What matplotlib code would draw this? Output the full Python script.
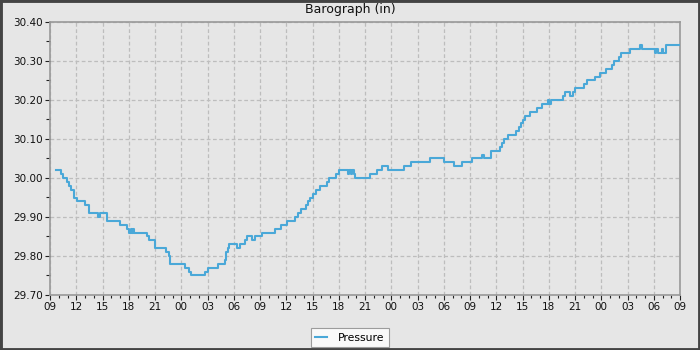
import matplotlib
matplotlib.use("Agg")
import matplotlib.pyplot as plt
from matplotlib.ticker import MultipleLocator, FixedLocator
from matplotlib.patches import Rectangle

# hours since 09:00 on the first day
hours = [0.69, 1.26, 1.45, 1.9, 2.18, 2.37, 2.75, 3.13, 3.97, 4.47, 5.46, 5.73,
         6.56, 8.0, 8.78, 9.0, 9.2, 9.35, 9.5, 9.6, 11.07, 11.3, 12.0, 13.3,
         13.6, 13.74, 15.4, 15.9, 16.1, 17.7, 18.0, 19.2, 20.0, 20.15, 20.35,
         20.5, 21.4, 21.7, 22.25, 22.5, 23.1, 23.4, 24.2, 25.7, 26.45, 27.1,
         28.0, 28.35, 28.7, 29.2, 29.5, 29.7, 30.1, 30.4, 30.9, 31.6, 31.9,
         32.7, 33.05, 34.1, 34.2, 34.35, 34.5, 34.7, 34.8, 36.6, 37.4, 37.9,
         38.6, 40.4, 41.2, 43.4, 45.0, 46.2, 47.1, 48.2, 49.35, 49.65, 50.4,
         51.45, 51.7, 51.9, 52.3, 53.2, 53.6, 53.8, 54.05, 54.25, 54.9, 55.6,
         56.2, 56.9, 57.0, 57.2, 58.6, 58.8, 59.4, 59.8, 60.0, 61.0, 61.4,
         62.3, 62.9, 63.5, 64.2, 64.5, 65.0, 65.2, 66.25, 67.4, 67.6, 69.1,
         69.3, 69.5, 69.9, 70.1, 70.4, 71.85]
pressure = [30.02, 30.01, 30.00, 29.99, 29.98, 29.97, 29.95, 29.94, 29.93, 29.91,
            29.90, 29.91, 29.89, 29.88, 29.87, 29.86, 29.87, 29.86, 29.87, 29.86,
            29.85, 29.84, 29.82, 29.81, 29.80, 29.78, 29.77, 29.76, 29.75, 29.76,
            29.77, 29.78, 29.79, 29.81, 29.82, 29.83, 29.82, 29.83, 29.84, 29.85,
            29.84, 29.85, 29.86, 29.87, 29.88, 29.89, 29.90, 29.91, 29.92, 29.93,
            29.94, 29.95, 29.96, 29.97, 29.98, 29.99, 30.00, 30.01, 30.02, 30.01,
            30.02, 30.01, 30.02, 30.01, 30.00, 30.01, 30.02, 30.03, 30.02, 30.03,
            30.04, 30.05, 30.04, 30.03, 30.04, 30.05, 30.06, 30.05, 30.07, 30.08,
            30.09, 30.10, 30.11, 30.12, 30.13, 30.14, 30.15, 30.16, 30.17, 30.18,
            30.19, 30.20, 30.19, 30.20, 30.21, 30.22, 30.21, 30.22, 30.23, 30.24,
            30.25, 30.26, 30.27, 30.28, 30.29, 30.30, 30.31, 30.32, 30.33, 30.34,
            30.33, 30.32, 30.33, 30.32, 30.33, 30.32, 30.34, 30.34]

x_tick_labels = ["09", "12", "15", "18", "21", "00", "03", "06", "09", "12", "15",
                 "18", "21", "00", "03", "06", "09", "12", "15", "18", "21", "00",
                 "03", "06", "09"]
y_ticks = [29.70, 29.80, 29.90, 30.00, 30.10, 30.20, 30.30, 30.40]

BG = "#e6e6e6"
LINE = "#4aa8d8"

fig = plt.figure(figsize=(7, 3.5), dpi=100, facecolor=BG)
fig.patches.append(Rectangle((0, 0), 1, 1, transform=fig.transFigure,
                             fill=False, edgecolor="#444444", linewidth=3.5,
                             zorder=10))
ax = fig.add_axes([50/700, 1 - 295/350, 630/700, 273/350])
ax.set_facecolor(BG)

ax.plot(hours, pressure, drawstyle="steps-post", color=LINE, lw=1.5,
        label="Pressure", zorder=3)

ax.set_xlim(0, 72)
ax.set_ylim(29.70, 30.40)
xt = [3 * i for i in range(len(x_tick_labels))]
ax.xaxis.set_major_locator(FixedLocator(xt))
ax.set_xticklabels(x_tick_labels)
ax.xaxis.set_minor_locator(MultipleLocator(1))
ax.set_yticks(y_ticks)
ax.set_yticklabels([f"{v:.2f}" for v in y_ticks])
ax.yaxis.set_minor_locator(MultipleLocator(0.05))

ax.tick_params(which="major", length=3.5, width=0.8, color="#222222",
               labelsize=7.5, labelcolor="#111111", pad=1.5)
ax.tick_params(which="minor", length=2, width=0.8, color="#222222")
ax.tick_params(axis="y", which="minor", length=3)

for s in ax.spines.values():
    s.set_color("#999999")
    s.set_linewidth(1.2)

ax.grid(True, which="major", color="#bdbdbd", linestyle=(0, (3, 2)), lw=0.9)
ax.set_axisbelow(True)

fig.text(0.5, 1 - 10/350, "Barograph (in)", ha="center", va="center",
         fontsize=9, color="#111111")

leg = fig.legend(loc="lower center", bbox_to_anchor=(0.5, 3/350), frameon=True,
                 fancybox=False, fontsize=7.8, handlelength=1.1,
                 borderpad=0.4, handletextpad=1.0, borderaxespad=0)
leg.get_frame().set_facecolor("white")
leg.get_frame().set_edgecolor("#888888")
leg.get_frame().set_linewidth(0.8)

fig.savefig("out.png", dpi=100, facecolor=BG)
